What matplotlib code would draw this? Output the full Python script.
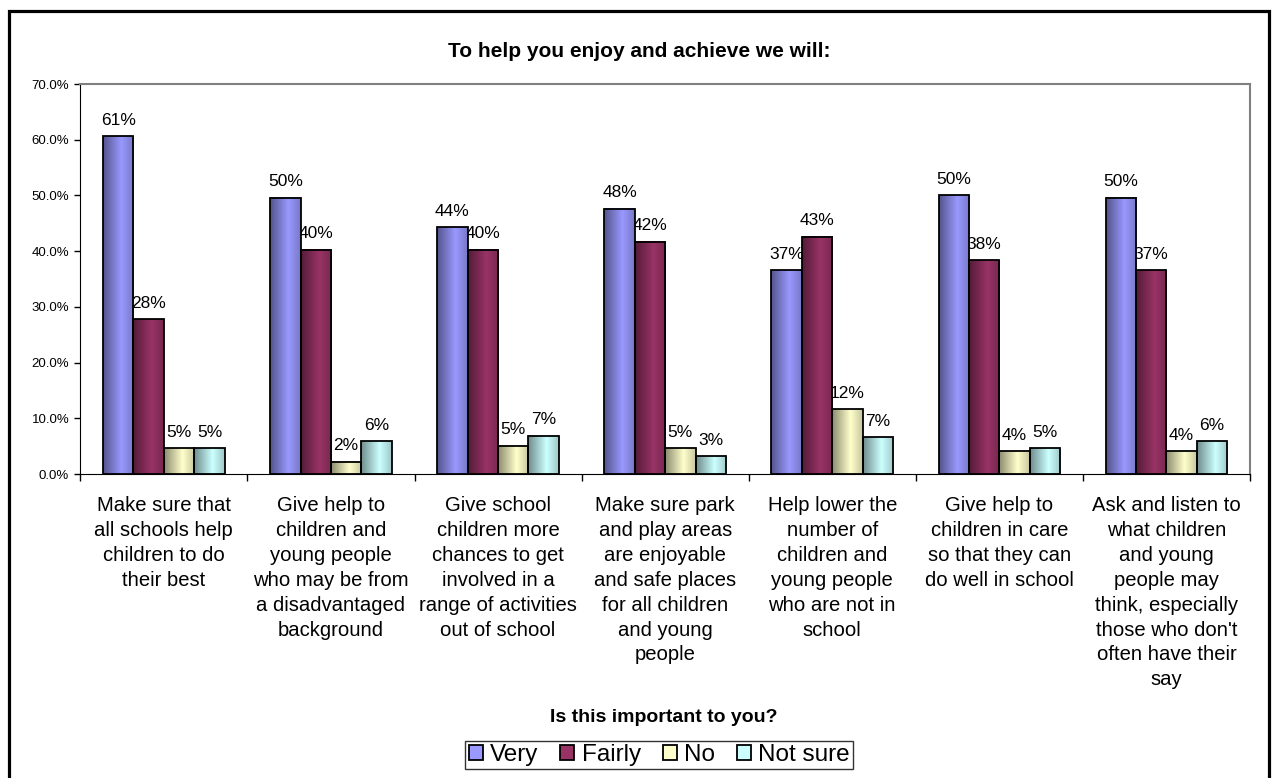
import matplotlib
matplotlib.use('Agg')
import matplotlib.pyplot as plt
from matplotlib.patches import Rectangle, Patch
from matplotlib.colors import to_rgb
import numpy as np

plt.rcParams['font.family'] = ['Liberation Sans', 'DejaVu Sans']

# Survey answers per statement (percent of respondents)
categories = [
    'Make sure that\nall schools help\nchildren to do\ntheir best',
    'Give help to\nchildren and\nyoung people\nwho may be from\na disadvantaged\nbackground',
    'Give school\nchildren more\nchances to get\ninvolved in a\nrange of activities\nout of school',
    'Make sure park\nand play areas\nare enjoyable\nand safe places\nfor all children\nand young\npeople',
    'Help lower the\nnumber of\nchildren and\nyoung people\nwho are not in\nschool',
    'Give help to\nchildren in care\nso that they can\ndo well in school',
    "Ask and listen to\nwhat children\nand young\npeople may\nthink, especially\nthose who don't\noften have their\nsay",
]
very = [60.6, 49.6, 44.3, 47.6, 36.6, 50.0, 49.6]
fairly = [27.8, 40.3, 40.3, 41.7, 42.6, 38.4, 36.6]
no = [4.6, 2.2, 5.1, 4.6, 11.6, 4.1, 4.1]
not_sure = [4.6, 5.9, 6.9, 3.2, 6.6, 4.6, 5.9]

series_names = ['Very', 'Fairly', 'No', 'Not sure']
series_colors = ['#9999FF', '#993366', '#FFFFCC', '#CCFFFF']

fig = plt.figure(figsize=(12.79, 7.78), dpi=100)
ax = fig.add_axes([0.0628, 0.3907, 0.9145, 0.5013])

x = np.arange(len(categories))
width = 1 / 5.5


def shaded_bar(ax, x0, w, h, color):
    # horizontal shading: dark left edge, bright at ~60%, a bit darker at right
    t = np.linspace(0, 1, 64)
    f = np.interp(t, [0, 0.6, 1], [0.55, 1.0, 0.78])
    rgb = np.array(to_rgb(color))
    img = (rgb[None, :] * f[:, None])[None, :, :]
    ax.imshow(img, extent=[x0, x0 + w, 0, h], aspect='auto',
              interpolation='bilinear', zorder=2)
    ax.add_patch(Rectangle((x0, 0), w, h, fill=False, edgecolor='black',
                           linewidth=1.3, zorder=3))


all_series = [very, fairly, no, not_sure]
for i, (vals, color) in enumerate(zip(all_series, series_colors)):
    offset = (i - 1.5) * width
    for xi, v in zip(x, vals):
        shaded_bar(ax, xi + offset - width / 2, width, v, color)
        ax.annotate(f'{v:.0f}%', xy=(xi + offset, v), xytext=(0, 6),
                    textcoords='offset points', ha='center', va='bottom',
                    fontsize=12.5, zorder=1)

ax.set_xlim(-0.5, len(categories) - 0.5)
ax.set_ylim(0, 70)
ax.set_yticks(np.arange(0, 71, 10))
ax.set_yticklabels([f'{v:.1f}%' for v in np.arange(0, 71, 10)])
ax.tick_params(axis='y', direction='out', length=4, width=1, pad=4,
               labelsize=9.5)

# category names centred under groups, tick marks on group boundaries
ax.set_xticks(x)
ax.set_xticklabels(categories, fontsize=14.6, linespacing=1.39)
ax.set_xticks(np.arange(-0.5, len(categories)), minor=True)
ax.tick_params(axis='x', which='major', length=0, pad=16)
ax.tick_params(axis='x', which='minor', direction='out', length=5, width=1)

ax.spines['left'].set_color('black')
ax.spines['bottom'].set_color('black')
for side in ['top', 'right']:
    ax.spines[side].set_color('#808080')
    ax.spines[side].set_linewidth(1.5)

fig.text(0.4996, 0.9335, 'To help you enjoy and achieve we will:',
         ha='center', va='center', fontsize=15, fontweight='bold')
fig.text(0.519, 0.0784, 'Is this important to you?',
         ha='center', va='center', fontsize=14, fontweight='bold')

handles = [Patch(facecolor=c, edgecolor='black', linewidth=1.3)
           for c in series_colors]
leg = fig.legend(handles, series_names, loc='center',
                 bbox_to_anchor=(0.5155, 0.0296), ncol=4, fontsize=17.5,
                 frameon=True, fancybox=False, borderpad=0.14,
                 handlelength=0.58, handleheight=0.58, handletextpad=0.3,
                 columnspacing=0.9, borderaxespad=0)
leg.get_frame().set_edgecolor('black')
leg.get_frame().set_linewidth(1.0)

# outer chart border
fig.patches.append(Rectangle((8.7 / 1279, -0.05), (1268.5 - 8.7) / 1279,
                             1.05 - 10.7 / 778, transform=fig.transFigure,
                             fill=False, edgecolor='black', linewidth=2.3))

fig.savefig('out.png', dpi=100)
